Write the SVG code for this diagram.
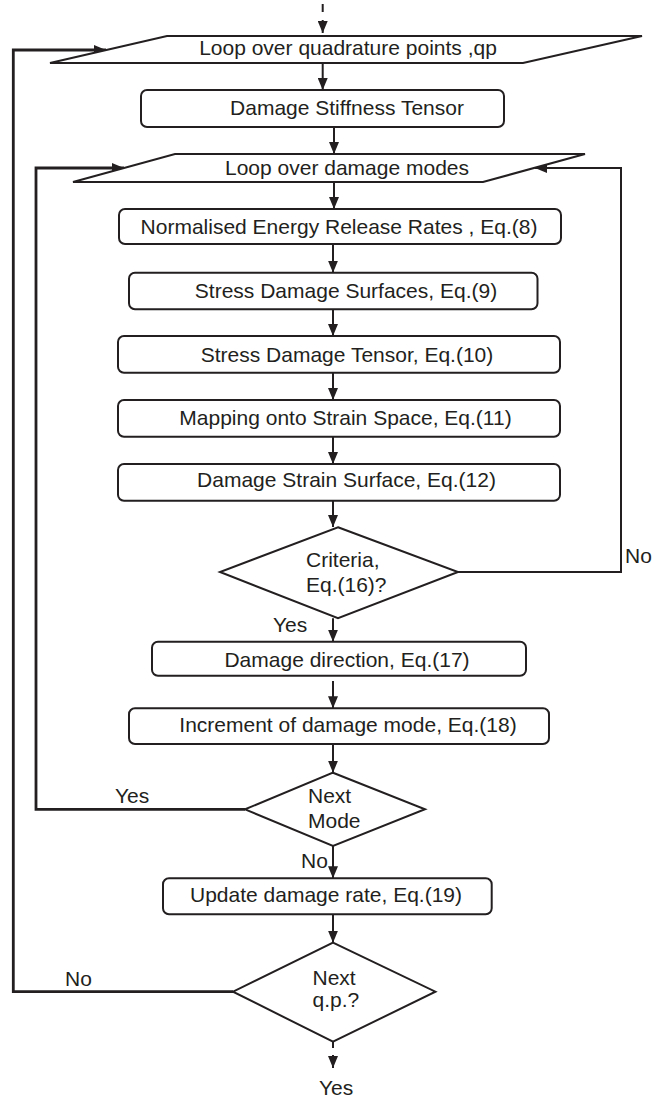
<svg xmlns="http://www.w3.org/2000/svg" width="655" height="1100" viewBox="0 0 655 1100">
<style>
.shape{fill:#fff;stroke:#231f20;stroke-width:2}
.t{font-family:"Liberation Sans",Arial,sans-serif;font-size:21px;fill:#231f20}
.m{text-anchor:middle}
.c{fill:none;stroke:#231f20;stroke-width:2}
.loop{fill:none;stroke:#231f20;stroke-width:2.8}
</style>
<defs>
<marker id="ah" viewBox="0 0 12 10" markerWidth="12" markerHeight="10" refX="12" refY="5" orient="auto" markerUnits="userSpaceOnUse">
<path d="M0,0 L12,5 L0,10 z" fill="#231f20"/>
</marker>
</defs>
<rect width="655" height="1100" fill="#fff"/>
<g id="connectors">
<line class="c" x1="322.7" y1="4" x2="322.7" y2="12"/>
<line class="c" x1="322.7" y1="20" x2="322.7" y2="33" marker-end="url(#ah)"/>
<line class="c" x1="322.7" y1="63" x2="322.7" y2="90" marker-end="url(#ah)"/>
<line class="c" x1="334" y1="127" x2="334" y2="154" marker-end="url(#ah)"/>
<line class="c" x1="334" y1="182" x2="334" y2="209" marker-end="url(#ah)"/>
<line class="c" x1="333" y1="244" x2="333" y2="272.7" marker-end="url(#ah)"/>
<line class="c" x1="333" y1="309.3" x2="333" y2="336" marker-end="url(#ah)"/>
<line class="c" x1="333" y1="372.7" x2="333" y2="400" marker-end="url(#ah)"/>
<line class="c" x1="333" y1="436.7" x2="333" y2="464" marker-end="url(#ah)"/>
<line class="c" x1="333" y1="500.7" x2="333" y2="527" marker-end="url(#ah)"/>
<line class="c" x1="333" y1="618.3" x2="333" y2="641.7" marker-end="url(#ah)"/>
<line class="c" x1="333" y1="681" x2="333" y2="708.3" marker-end="url(#ah)"/>
<line class="c" x1="333" y1="744" x2="333" y2="772.7" marker-end="url(#ah)"/>
<line class="c" x1="333" y1="846" x2="333" y2="878.3" marker-end="url(#ah)"/>
<line class="c" x1="333" y1="914.3" x2="333" y2="942.7" marker-end="url(#ah)"/>
<line class="c" x1="333" y1="1042" x2="333" y2="1048"/>
<line class="c" x1="333" y1="1055" x2="333" y2="1068" marker-end="url(#ah)"/>
<polyline class="c" points="458,572 621,572 621,168 535,168" marker-end="url(#ah)"/>
<polyline class="loop" points="245,809.3 36,809.3 36,168 124,168" marker-end="url(#ah)"/>
<polyline class="loop" points="233,991.7 13.3,991.7 13.3,50 106,50" marker-end="url(#ah)"/>
<text class="t" x="625" y="563">No</text>
<text class="t" x="273" y="631.7">Yes</text>
<text class="t" x="115" y="803">Yes</text>
<text class="t" x="301" y="868">No</text>
<text class="t" x="65" y="986">No</text>
<text class="t" x="319" y="1095">Yes</text>
</g>
<g id="loop-qp">
<polygon class="shape" points="167,36 642,36 523,63 50,63"/>
<text class="t m" x="348" y="55">Loop over quadrature points ,qp</text>
</g>
<g id="stiffness">
<rect class="shape" x="141" y="90" width="363" height="37" rx="6"/>
<text class="t m" x="347" y="115">Damage Stiffness Tensor</text>
</g>
<g id="loop-modes">
<polygon class="shape" points="175,154 585,154 483,182 73,182"/>
<text class="t m" x="347" y="175">Loop over damage modes</text>
</g>
<g id="energy">
<rect class="shape" x="119" y="209" width="442" height="35" rx="6"/>
<text class="t m" x="339" y="234.3">Normalised Energy Release Rates , Eq.(8)</text>
</g>
<g id="surfaces">
<rect class="shape" x="129" y="272.7" width="408.5" height="36.6" rx="6"/>
<text class="t m" x="346" y="298.3">Stress Damage Surfaces, Eq.(9)</text>
</g>
<g id="stress-tensor">
<rect class="shape" x="118" y="336" width="442" height="36.7" rx="6"/>
<text class="t m" x="347" y="361.7">Stress Damage Tensor, Eq.(10)</text>
</g>
<g id="mapping">
<rect class="shape" x="118" y="400" width="442" height="36.7" rx="6"/>
<text class="t m" x="345.5" y="425">Mapping onto Strain Space, Eq.(11)</text>
</g>
<g id="strain-surface">
<rect class="shape" x="118" y="464" width="442" height="36.7" rx="6"/>
<text class="t m" x="346.5" y="486.7">Damage Strain Surface, Eq.(12)</text>
</g>
<g id="criteria">
<polygon class="shape" points="338,527.3 458,572 338,618.3 220,572"/>
<text class="t" x="306" y="566.7">Criteria,</text>
<text class="t" x="306" y="591.7">Eq.(16)?</text>
</g>
<g id="direction">
<rect class="shape" x="152" y="641.7" width="374" height="34" rx="6"/>
<text class="t m" x="347" y="666.7">Damage direction, Eq.(17)</text>
</g>
<g id="increment">
<rect class="shape" x="129" y="708.3" width="420" height="35.7" rx="6"/>
<text class="t m" x="348" y="731.7">Increment of damage mode, Eq.(18)</text>
</g>
<g id="next-mode">
<polygon class="shape" points="333,772.7 425,809.3 333,846 245,809.3"/>
<text class="t" x="308" y="802.7">Next</text>
<text class="t" x="308" y="828.3">Mode</text>
</g>
<g id="update">
<rect class="shape" x="163" y="878.3" width="328.7" height="36" rx="6"/>
<text class="t m" x="326" y="901.7">Update damage rate, Eq.(19)</text>
</g>
<g id="next-qp">
<polygon class="shape" points="333,942.7 435.4,991.7 333,1041.7 233,991.7"/>
<text class="t" x="312.5" y="985">Next</text>
<text class="t" x="312.5" y="1007">q.p.?</text>
</g>
</svg>
